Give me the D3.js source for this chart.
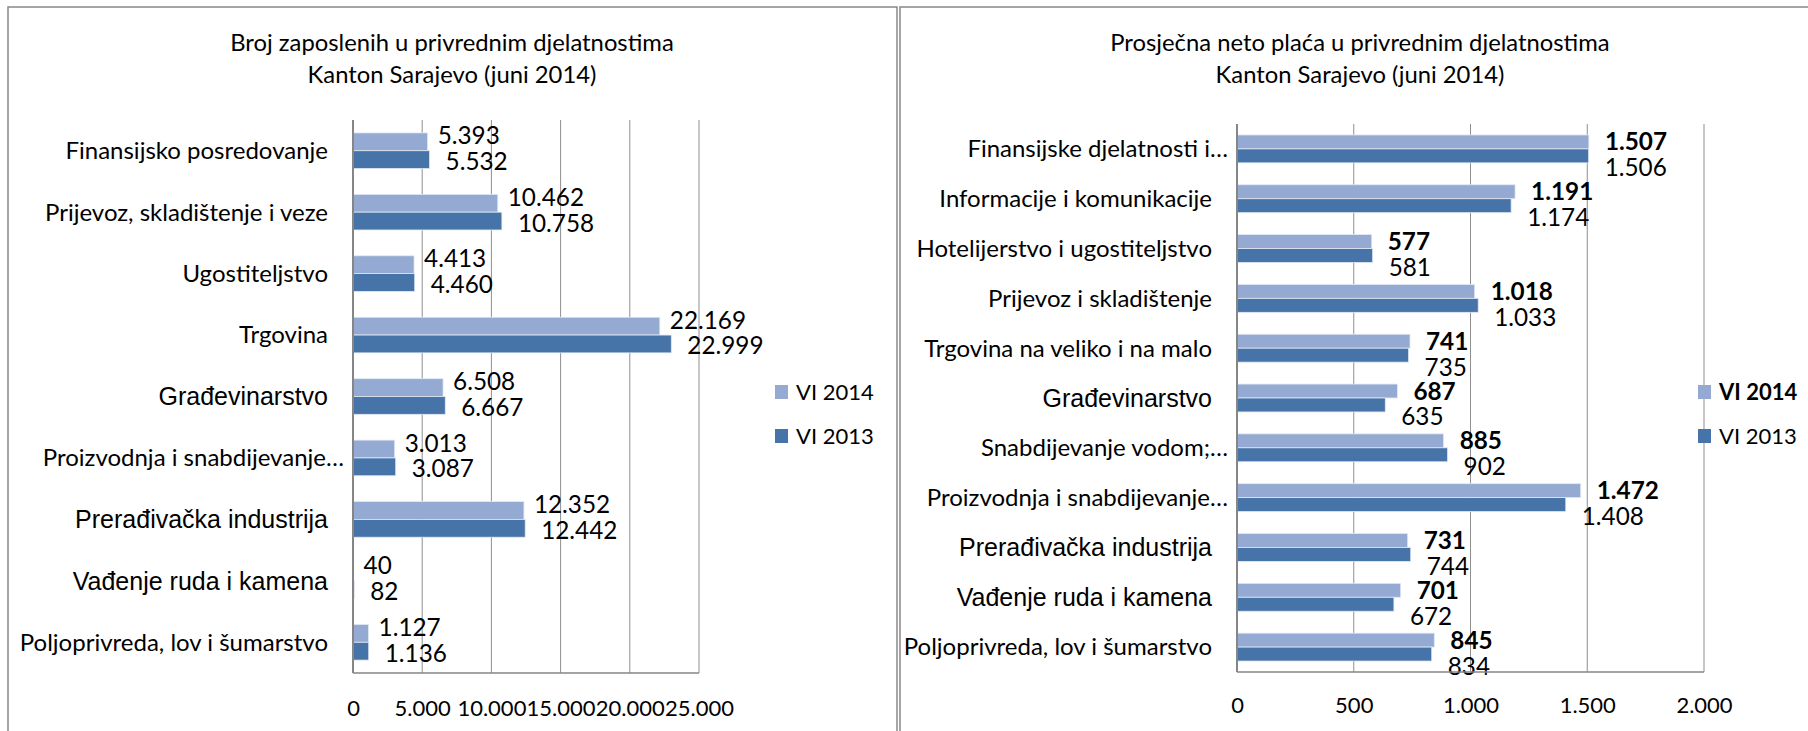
<!DOCTYPE html>
<html>
<head>
<meta charset="utf-8">
<script src="https://cdn.jsdelivr.net/npm/d3@7"></script>
<style>
    body { margin: 0; background: #fff; }
    svg { display: block; }
    .calibri { font-family: Lato, 'Open Sans', sans-serif; fill: #000; }
    .arial { font-family: 'Liberation Sans', Arial, sans-serif; fill: #000; }
</style>
</head>
<body>
<svg id="chart" width="1808" height="731"></svg>
<script>
// ------- Data -------

const seriesNames = ['VI 2014', 'VI 2013'];

const employCategories = [
    'Finansijsko posredovanje',
    'Prijevoz, skladištenje i veze',
    'Ugostiteljstvo',
    'Trgovina',
    'Građevinarstvo',
    'Proizvodnja i snabdijevanje…',
    'Prerađivačka industrija',
    'Vađenje ruda i kamena',
    'Poljoprivreda, lov i šumarstvo'
];
const employ2014 = [5393, 10462, 4413, 22169, 6508, 3013, 12352, 40, 1127];
const employ2013 = [5532, 10758, 4460, 22999, 6667, 3087, 12442, 82, 1136];
const employTicks = [0, 5000, 10000, 15000, 20000, 25000];

const wageCategories = [
    'Finansijske djelatnosti i…',
    'Informacije i komunikacije',
    'Hotelijerstvo i ugostiteljstvo',
    'Prijevoz i skladištenje',
    'Trgovina na veliko i na malo',
    'Građevinarstvo',
    'Snabdijevanje vodom;…',
    'Proizvodnja i snabdijevanje…',
    'Prerađivačka industrija',
    'Vađenje ruda i kamena',
    'Poljoprivreda, lov i šumarstvo'
];
const wage2014 = [1507, 1191, 577, 1018, 741, 687, 885, 1472, 731, 701, 845];
const wage2013 = [1506, 1174, 581, 1033, 735, 635, 902, 1408, 744, 672, 834];
const wageTicks = [0, 500, 1000, 1500, 2000];

// categories that the original shows in a larger Arial face
const bigLabels = ['Građevinarstvo', 'Prerađivačka industrija', 'Vađenje ruda i kamena'];

const colors = {'VI 2014': '#95aad2', 'VI 2013': '#4673a8'};

const fmt = d3.formatLocale({decimal: ',', thousands: '.', grouping: [3], currency: ['', '']}).format(',d');

const svg = d3.select('#chart');

// ------- Panel frames -------

svg.append('rect')
    .attr('x', 8).attr('y', 7)
    .attr('width', 889).attr('height', 740)
    .attr('fill', 'none').attr('stroke', '#888').attr('stroke-width', 1.5);

svg.append('rect')
    .attr('x', 900).attr('y', 7)
    .attr('width', 940).attr('height', 740)
    .attr('fill', 'none').attr('stroke', '#888').attr('stroke-width', 1.5);

// ------- Chart drawing -------

const barChart = (props) => {
    const {
        titleLines, titleX,
        categories, values2014, values2013, ticks,
        left, right, top, bottom,
        lightOffset, darkOffset, lightDy, darkDy,
        boldLight, legendX, tickY
    } = props;

    const g = svg.append('g');

    const x = d3.scaleLinear().domain([0, ticks[ticks.length - 1]]).range([left, right]);

    const pad = props.pad;
    const y = d3.scaleBand().domain(categories).range([top, bottom])
        .paddingInner(pad).paddingOuter(pad / 2);
    const inner = d3.scaleBand().domain(seriesNames).range([0, y.bandwidth()]);

    // title
    g.append('text')
        .attr('class', 'calibri')
        .attr('text-anchor', 'middle')
        .attr('font-size', 23.8)
        .selectAll('tspan')
        .data(titleLines)
        .join('tspan')
            .attr('x', titleX)
            .attr('y', (d, i) => 51 + i * 32)
            .text(d => d);

    // gridlines
    g.append('g')
        .selectAll('line')
        .data(ticks.slice(1))
        .join('line')
            .attr('x1', d => x(d)).attr('x2', d => x(d))
            .attr('y1', top).attr('y2', bottom)
            .attr('stroke', '#8f8f8f').attr('stroke-width', 1);

    // x axis (only labels, no ticks)
    const xAxis = d3.axisBottom(x).tickValues(ticks).tickFormat(fmt).tickSize(0).tickPadding(0);
    const xg = g.append('g')
        .attr('transform', `translate(0, ${tickY})`)
        .call(xAxis);
    xg.select('.domain').remove();
    xg.selectAll('text')
        .attr('class', 'calibri')
        .attr('dy', '0.35em')
        .attr('font-size', 22);

    // bars
    const rows = categories.map((c, i) => ({category: c, values: [
        {series: 'VI 2014', value: values2014[i]},
        {series: 'VI 2013', value: values2013[i]}
    ]}));

    const rowG = g.append('g')
        .selectAll('g.row')
        .data(rows)
        .join('g')
            .attr('class', 'row')
            .attr('transform', d => `translate(0, ${y(d.category)})`);

    rowG.selectAll('rect')
        .data(d => d.values)
        .join('rect')
            .attr('x', x(0))
            .attr('y', d => inner(d.series))
            .attr('width', d => x(d.value) - x(0))
            .attr('height', inner.bandwidth())
            .attr('fill', d => colors[d.series])
            .attr('stroke', '#e3e9f4')
            .attr('stroke-width', 0.8);

    // value labels
    rowG.selectAll('text.value')
        .data(d => d.values)
        .join('text')
            .attr('class', 'value calibri')
            .attr('font-size', 24.3)
            .attr('font-weight', d => boldLight && d.series === 'VI 2014' ? 'bold' : 'normal')
            .attr('x', d => x(d.value) + (d.series === 'VI 2014' ? lightOffset : darkOffset))
            .attr('y', d => inner(d.series) + inner.bandwidth() / 2 + (d.series === 'VI 2014' ? lightDy : darkDy))
            .attr('dy', '0.35em')
            .text(d => fmt(d.value));

    // category labels
    g.append('g')
        .selectAll('text')
        .data(categories)
        .join('text')
            .attr('class', d => bigLabels.includes(d) ? 'arial' : 'calibri')
            .attr('font-size', d => bigLabels.includes(d) ? 25 : 24)
            .attr('text-anchor', 'end')
            .attr('x', d => d.endsWith('…') ? left - 9 : left - 25)
            .attr('y', d => y(d) + y.bandwidth() / 2)
            .attr('dy', '0.35em')
            .text(d => d);

    // axis lines
    g.append('line')
        .attr('x1', left).attr('x2', left)
        .attr('y1', top).attr('y2', bottom)
        .attr('stroke', '#868686').attr('stroke-width', 2);
    g.append('line')
        .attr('x1', left).attr('x2', right)
        .attr('y1', bottom).attr('y2', bottom)
        .attr('stroke', '#868686').attr('stroke-width', 1.5);

    // legend
    const legendItem = g.append('g')
        .selectAll('g')
        .data(seriesNames)
        .join('g')
            .attr('transform', (d, i) => `translate(${legendX}, ${385 + i * 44})`);

    legendItem.append('rect')
        .attr('width', 13).attr('height', 14)
        .attr('fill', d => colors[d]);

    legendItem.append('text')
        .attr('class', 'calibri')
        .attr('font-size', 22)
        .attr('font-weight', d => boldLight && d === 'VI 2014' ? 'bold' : 'normal')
        .attr('x', 21)
        .attr('y', 7)
        .attr('dy', '0.35em')
        .text(d => d);
};

barChart({
    titleLines: ['Broj zaposlenih u privrednim djelatnostima', 'Kanton Sarajevo (juni 2014)'],
    titleX: 452,
    categories: employCategories,
    values2014: employ2014,
    values2013: employ2013,
    ticks: employTicks,
    left: 353, right: 699, top: 120, bottom: 673,
    pad: 0.42,
    lightOffset: 10, darkOffset: 16, lightDy: -6, darkDy: 2,
    boldLight: false,
    legendX: 775,
    tickY: 708
});

barChart({
    titleLines: ['Prosječna neto plaća u privrednim djelatnostima', 'Kanton Sarajevo (juni 2014)'],
    titleX: 1360,
    categories: wageCategories,
    values2014: wage2014,
    values2013: wage2013,
    ticks: wageTicks,
    left: 1237, right: 1704, top: 124, bottom: 672,
    pad: 0.44,
    lightOffset: 16, darkOffset: 16, lightDy: 0, darkDy: 12,
    boldLight: true,
    legendX: 1698,
    tickY: 705
});
</script>
</body>
</html>
